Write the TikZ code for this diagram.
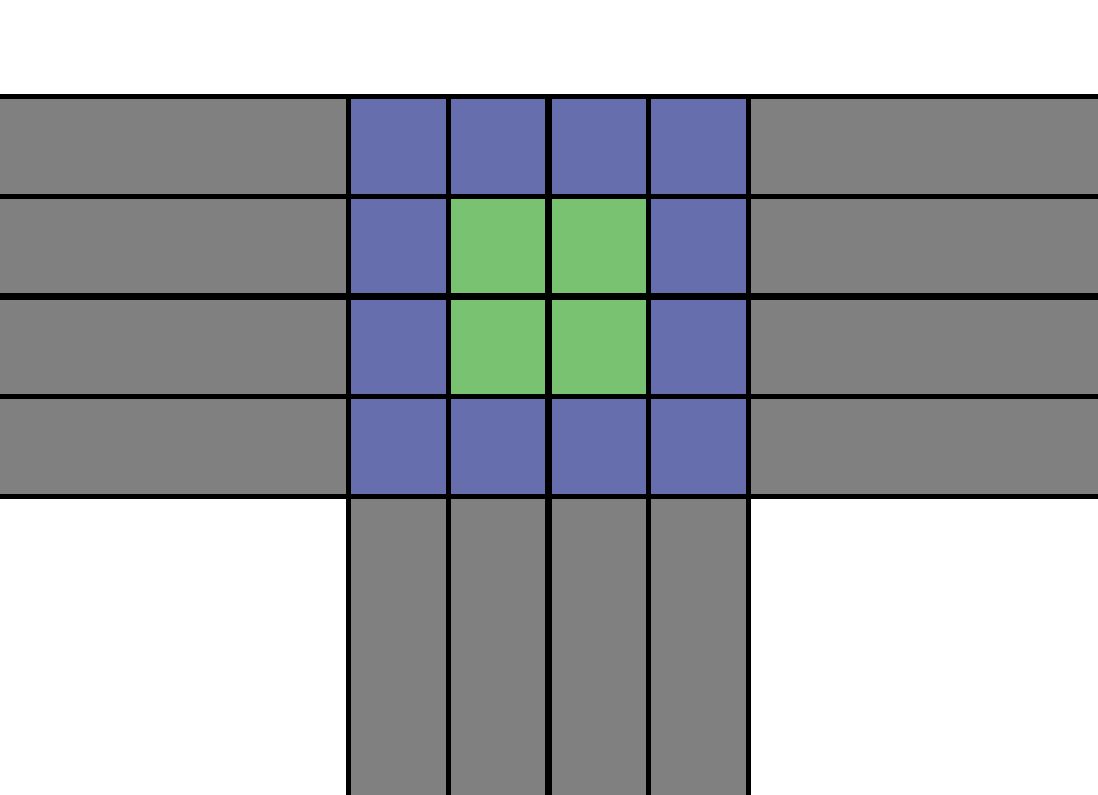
\documentclass[tikz,border=0pt]{standalone}
\usepackage{tikz}

\definecolor{lanegray}{HTML}{808080}
\definecolor{ringblue}{HTML}{666EAE}
\definecolor{coregreen}{HTML}{79C272}

\begin{document}
\begin{tikzpicture}[
  cell/.style={line width=0.3pt},
  lane/.style={cell, fill=lanegray, draw=lanegray!55!black},
  ring/.style={cell, fill=ringblue, draw=ringblue!55!black},
  core/.style={cell, fill=coregreen, draw=coregreen!60!black},
  gridline/.style={line width=1.3pt},
  midline/.style={line width=2.2pt}
]
  \clip (0,0) rectangle (10.98,7.95);

  \begin{scope}[shift={(3.485,2.985)}]
    % Side lanes (left and right)
    \foreach \j in {0,...,3} {
      \draw[lane] (-4,\j) rectangle (0,\j+1);
      \draw[lane] (4,\j) rectangle (8,\j+1);
    }

    % Lanes below
    \foreach \i in {0,...,3}
      \draw[lane] (\i,-3.5) rectangle (\i+1,0);

    % Junction cells
    \foreach \i in {0,...,3}
      \foreach \j in {0,...,3}
        \draw[ring] (\i,\j) rectangle (\i+1,\j+1);
    \foreach \i in {1,2}
      \foreach \j in {1,2}
        \draw[core] (\i,\j) rectangle (\i+1,\j+1);

    % Lane borders
    \foreach \i in {0,1,3,4}
      \draw[gridline] (\i,-3.5) -- (\i,4);
    \draw[midline] (2,-3.5) -- (2,4);
    \foreach \j in {0,1,3,4}
      \draw[gridline] (-4,\j) -- (8,\j);
    \draw[midline] (-4,2) -- (8,2);
  \end{scope}
\end{tikzpicture}
\end{document}
